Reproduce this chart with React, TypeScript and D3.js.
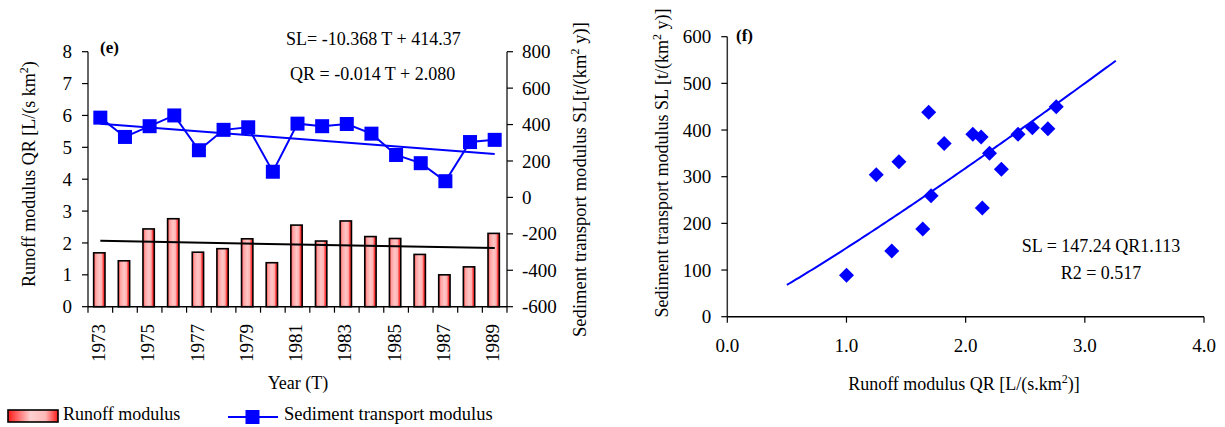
import React from "react";
import * as d3 from "d3";

// ---------- data ----------
const years = [1973, 1974, 1975, 1976, 1977, 1978, 1979, 1980, 1981, 1982, 1983, 1984, 1985, 1986, 1987, 1988, 1989];
const runoffQR = [1.69, 1.44, 2.44, 2.76, 1.71, 1.82, 2.13, 1.38, 2.56, 2.06, 2.69, 2.2, 2.14, 1.64, 1.0, 1.25, 2.3];
const sedimentSL = [438, 332, 391, 450, 259, 371, 385, 141, 405, 391, 403, 350, 233, 188, 89, 304, 316];

const qrTicks = [0, 1, 2, 3, 4, 5, 6, 7, 8];
const slTicks = [-600, -400, -200, 0, 200, 400, 600, 800];
const yearTickLabels = [1973, 1975, 1977, 1979, 1981, 1983, 1985, 1987, 1989];
const scatterXTicks = [0, 1, 2, 3, 4];
const scatterYTicks = [0, 100, 200, 300, 400, 500, 600];

// trend equations as printed on the chart
const slSlope = -10.368;
const slIntercept = 414.37;
const qrSlope = -0.014;
const qrIntercept = 2.08;
const powerCoef = 147.24;
const powerExp = 1.113;
const powerRange = [0.5, 3.26];

const FONT = "'Liberation Serif', 'Times New Roman', serif";
const BLUE = "#0000ff";

export default function App() {
  // ---- left chart (e) ----
  const left = 88, right = 507, top = 51.7, bottom = 306.7;
  const xBand = d3.scaleBand<number>().domain(years).range([left, right]).padding(0);
  const yQR = d3.scaleLinear().domain([0, 8]).range([bottom, top]);
  const ySL = d3.scaleLinear().domain([-600, 800]).range([bottom, top]);
  const cx = (y: number) => (xBand(y) as number) + xBand.bandwidth() / 2;
  const barW = xBand.bandwidth() * 0.46;

  const slLine = d3.line<number>().x((_, i) => cx(years[i])).y((d) => ySL(d));
  const tFirst = 1, tLast = years.length;

  // ---- right chart (f) ----
  const rL = 727.3, rR = 1204, rT = 36.7, rB = 316.7;
  const xQ = d3.scaleLinear().domain([0, 4]).range([rL, rR]);
  const yS = d3.scaleLinear().domain([0, 600]).range([rB, rT]);
  const curvePts = d3.range(powerRange[0], powerRange[1] + 1e-9, 0.02).concat([powerRange[1]]);
  const powerLine = d3
    .line<number>()
    .x((q) => xQ(q))
    .y((q) => yS(powerCoef * Math.pow(q, powerExp)));

  const tickFont = 19;
  const axisColor = "#333";

  return (
    <svg
      width={1225}
      height={427}
      style={{ position: "absolute", left: 0, top: 0, background: "#fff" }}
      fontFamily={FONT}
    >
      <defs>
        <linearGradient id="barGrad" x1="0" x2="1" y1="0" y2="0">
          <stop offset="0" stopColor="#ff3030" />
          <stop offset="0.18" stopColor="#ffa0a0" />
          <stop offset="0.5" stopColor="#ffc6c6" />
          <stop offset="0.72" stopColor="#ffb0b0" />
          <stop offset="0.85" stopColor="#ff4040" />
          <stop offset="1" stopColor="#ff2020" />
        </linearGradient>
        <linearGradient id="legGrad" x1="0" x2="1" y1="0" y2="0">
          <stop offset="0" stopColor="#ff1a1a" />
          <stop offset="0.45" stopColor="#ffd0d0" />
          <stop offset="0.75" stopColor="#ffb8b8" />
          <stop offset="1" stopColor="#ff1a1a" />
        </linearGradient>
      </defs>

      {/* ===== Chart (e) ===== */}
      {years.map((y, i) => (
        <rect
          key={"b" + y}
          x={cx(y) - barW / 2 - 1}
          y={yQR(runoffQR[i])}
          width={barW}
          height={bottom - yQR(runoffQR[i])}
          fill="url(#barGrad)"
          stroke="#000"
          strokeWidth={1.6}
        />
      ))}
      <line
        x1={cx(years[0])}
        x2={cx(years[years.length - 1])}
        y1={yQR(qrSlope * tFirst + qrIntercept)}
        y2={yQR(qrSlope * tLast + qrIntercept)}
        stroke="#000"
        strokeWidth={2}
      />
      <line
        x1={cx(years[0])}
        x2={cx(years[years.length - 1])}
        y1={ySL(slSlope * tFirst + slIntercept)}
        y2={ySL(slSlope * tLast + slIntercept)}
        stroke={BLUE}
        strokeWidth={2}
      />
      <path d={slLine(sedimentSL) || ""} fill="none" stroke={BLUE} strokeWidth={2} />
      {years.map((y, i) => (
        <rect key={"m" + y} x={cx(y) - 7} y={ySL(sedimentSL[i]) - 7} width={14} height={14} fill={BLUE} />
      ))}

      <line x1={left} x2={left} y1={top} y2={bottom} stroke={axisColor} strokeWidth={1.5} />
      <line x1={right} x2={right} y1={top} y2={bottom} stroke={axisColor} strokeWidth={1.5} />
      <line x1={left} x2={right} y1={bottom} y2={bottom} stroke="#000" strokeWidth={1.5} />
      {qrTicks.map((t) => (
        <g key={"qt" + t}>
          <line x1={left - 6} x2={left} y1={yQR(t)} y2={yQR(t)} stroke="#000" strokeWidth={1.2} />
          <text x={left - 16} y={yQR(t)} dy="0.35em" textAnchor="end" fontSize={tickFont}>
            {t}
          </text>
        </g>
      ))}
      {slTicks.map((t) => (
        <g key={"st" + t}>
          <line x1={right} x2={right + 6} y1={ySL(t)} y2={ySL(t)} stroke="#000" strokeWidth={1.2} />
          <text x={right + 15} y={ySL(t)} dy="0.35em" textAnchor="start" fontSize={tickFont}>
            {t}
          </text>
        </g>
      ))}
      {years.concat([years[years.length - 1] + 1]).map((y, i) => {
        const x = left + i * xBand.step();
        return <line key={"xt" + i} x1={x} x2={x} y1={bottom} y2={bottom + 6} stroke="#000" strokeWidth={1.2} />;
      })}
      {yearTickLabels.map((y) => (
        <text
          key={"yl" + y}
          transform={`translate(${cx(y) - 2},${324}) rotate(-90)`}
          dy="0.35em"
          textAnchor="end"
          fontSize={tickFont}
        >
          {y}
        </text>
      ))}

      <text x={100} y={53} fontSize={17} fontWeight="bold">(e)</text>
      <text x={286} y={44.5} fontSize={18}>SL= -10.368 T + 414.37</text>
      <text x={290} y={80} fontSize={18}>QR = -0.014 T + 2.080</text>
      <text transform="translate(35,287) rotate(-90)" fontSize={18} textAnchor="start">
        Runoff modulus QR [L/(s km
        <tspan fontSize={12} dy="-7">2</tspan>
        <tspan dy="7">)</tspan>
      </text>
      <text transform="translate(586,337) rotate(-90)" fontSize={18.6} textAnchor="start">
        Sediment transport modulus SL[t/(km
        <tspan fontSize={12} dy="-7">2</tspan>
        <tspan dy="7"> y)]</tspan>
      </text>
      <text x={298} y={389} fontSize={18} textAnchor="middle">Year  (T)</text>

      {/* legend */}
      <rect x={8} y={410} width={50} height={12} fill="url(#legGrad)" stroke="#000" strokeWidth={1.6} />
      <text x={63} y={420} fontSize={18}>Runoff modulus</text>
      <line x1={228} x2={278} y1={417} y2={417} stroke={BLUE} strokeWidth={2} />
      <rect x={245.5} y={410} width={14} height={14} fill={BLUE} />
      <text x={284} y={420} fontSize={18.5}>Sediment transport modulus</text>

      {/* ===== Chart (f) ===== */}
      <path d={powerLine(curvePts) || ""} fill="none" stroke={BLUE} strokeWidth={2} />
      {years.map((y, i) => {
        const px = xQ(runoffQR[i]);
        const py = yS(sedimentSL[i]);
        return (
          <path
            key={"d" + y}
            d={`M${px},${py - 7.5} L${px + 7.5},${py} L${px},${py + 7.5} L${px - 7.5},${py} Z`}
            fill={BLUE}
          />
        );
      })}
      <line x1={rL} x2={rL} y1={rT} y2={rB} stroke={axisColor} strokeWidth={1.5} />
      <line x1={rL} x2={rR} y1={rB} y2={rB} stroke="#000" strokeWidth={1.5} />
      {scatterYTicks.map((t) => (
        <g key={"syt" + t}>
          <line x1={rL - 6} x2={rL} y1={yS(t)} y2={yS(t)} stroke="#000" strokeWidth={1.2} />
          <text x={rL - 16} y={yS(t)} dy="0.35em" textAnchor="end" fontSize={tickFont}>
            {t}
          </text>
        </g>
      ))}
      {scatterXTicks.map((t) => (
        <g key={"sxt" + t}>
          <line x1={xQ(t)} x2={xQ(t)} y1={rB} y2={rB + 6} stroke="#000" strokeWidth={1.2} />
          <text x={xQ(t)} y={rB + 29} dy="0.35em" textAnchor="middle" fontSize={tickFont}>
            {t.toFixed(1)}
          </text>
        </g>
      ))}
      <text x={736} y={41} fontSize={17} fontWeight="bold">(f)</text>
      <text x={1101} y={251.5} fontSize={18} textAnchor="middle">SL = 147.24 QR1.113</text>
      <text x={1101} y={279} fontSize={18} textAnchor="middle">R2 = 0.517</text>
      <text x={964} y={390} fontSize={18} textAnchor="middle">
        Runoff modulus QR [L/(s.km
        <tspan fontSize={12} dy="-7">2</tspan>
        <tspan dy="7">)]</tspan>
      </text>
      <text transform="translate(668,163) rotate(-90)" fontSize={18} textAnchor="middle">
        Sediment transport modulus SL [t/(km
        <tspan fontSize={12} dy="-7">2</tspan>
        <tspan dy="7"> y)]</tspan>
      </text>
    </svg>
  );
}
